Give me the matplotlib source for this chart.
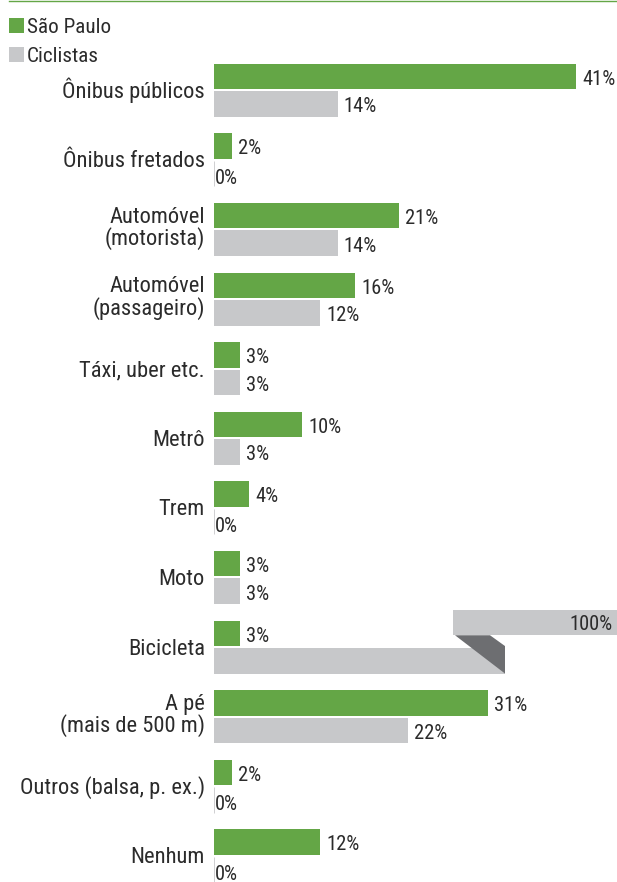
import matplotlib
matplotlib.use("Agg")
import matplotlib.pyplot as plt
from matplotlib import font_manager as fm
from matplotlib.patches import Rectangle, Polygon
from matplotlib.lines import Line2D

# ---- data -------------------------------------------------------------
categories = [
    "Ônibus públicos",
    "Ônibus fretados",
    "Automóvel\n(motorista)",
    "Automóvel\n(passageiro)",
    "Táxi, uber etc.",
    "Metrô",
    "Trem",
    "Moto",
    "Bicicleta",
    "A pé\n(mais de 500 m)",
    "Outros (balsa, p. ex.)",
    "Nenhum",
]
sao_paulo = [41, 2, 21, 16, 3, 10, 4, 3, 3, 31, 2, 12]
ciclistas = [14, 0, 14, 12, 3, 3, 0, 3, 100, 22, 0, 0]
series_names = ["São Paulo", "Ciclistas"]

# ---- style ------------------------------------------------------------
GREEN = "#64a646"
GREY = "#c7c8ca"
DARK = "#6d6e71"
TEXT = "#2b2b2b"

W, H, DPI = 617, 882, 100
AX_LEFT_PX = 214
PX_PER_UNIT = 8.83          # pixels per percentage point
PITCH = 69.6                # pixels between groups
Y0 = 76.5                   # pixel centre of first green bar


def pick_font():
    """Prefer a narrow sans face; fall back to DejaVu Sans."""
    entries = fm.fontManager.ttflist

    def regular(e):
        w = e.weight
        if isinstance(w, str):
            w = fm.weight_dict.get(w, 400)
        return e.style == "normal" and w == 400

    for fam in ["Roboto Condensed", "Liberation Sans Narrow",
                "Open Sans Condensed", "Noto Sans Condensed",
                "DejaVu Sans Condensed"]:
        for e in entries:
            if e.name == fam and regular(e):
                return e.fname
    for fam in ["Roboto", "Noto Sans", "Open Sans", "DejaVu Sans"]:
        for e in entries:
            if e.name == fam and regular(e) and e.stretch in (
                    "condensed", "semi-condensed", 75, 87.5):
                return e.fname
    return None


fpath = pick_font()


def fp(size):
    if fpath:
        return fm.FontProperties(fname=fpath, size=size)
    return fm.FontProperties(family="DejaVu Sans", size=size)


def px_x(px):
    return (px - AX_LEFT_PX) / PX_PER_UNIT


def px_y(px):
    return (px - Y0) / PITCH


fig = plt.figure(figsize=(W / DPI, H / DPI), dpi=DPI)
ax = fig.add_axes([AX_LEFT_PX / W, 0, (W - AX_LEFT_PX) / W, 1])
ax.set_xlim(0, px_x(W))
ax.set_ylim(px_y(H), px_y(0))
ax.axis("off")

n = len(categories)
bar_h = 25.5 / PITCH
grey_off = 27.5 / PITCH
xmax = px_x(W)

# where a bar too long for the scale is folded back up
BREAK_END = px_x(505)
BREAK_START = px_x(453)

green_y = [i for i in range(n)]
grey_y = [i + grey_off for i in range(n)]

ax.barh(green_y, sao_paulo, height=bar_h, color=GREEN, linewidth=0)

grey_drawn = [min(v, BREAK_END) if v > xmax else v for v in ciclistas]
grey_lw = [0.6 if v == 0 else 0 for v in ciclistas]
ax.barh(grey_y, grey_drawn, height=bar_h, color=GREY,
        edgecolor=GREY, linewidth=grey_lw)

val_fp = fp(14.8)
lab_fp = fp(16.2)
lab_gap = 6 / PX_PER_UNIT

for i, (g, c) in enumerate(zip(sao_paulo, ciclistas)):
    # green value
    ax.text(g + lab_gap if g > 0 else 0.05, green_y[i] + 8.3 / PITCH,
            f"{g}%", fontproperties=val_fp, color=TEXT,
            ha="left", va="baseline")
    if c > xmax:
        # folded bar: upper segment runs out to the value itself
        up_top = i - 0.338
        up_bot = i + 0.028
        ax.add_patch(Rectangle((BREAK_START, up_top), c - BREAK_START,
                               up_bot - up_top, facecolor=GREY,
                               linewidth=0, clip_on=True))
        low_top = grey_y[i] - bar_h / 2
        low_bot = grey_y[i] + bar_h / 2
        ax.add_patch(Polygon([
            (BREAK_START + 2 / PX_PER_UNIT, up_bot),
            (px_x(490), up_bot),
            (BREAK_END, low_top - 2 / PITCH),
            (BREAK_END, low_bot),
        ], closed=True, facecolor=DARK, linewidth=0))
        ax.text(px_x(613), i - 0.047, f"{c}%", fontproperties=val_fp,
                color=TEXT, ha="right", va="baseline")
    else:
        off = 8.3 if c > 0 else 10.0
        ax.text(c + lab_gap if c > 0 else 0.05, grey_y[i] + off / PITCH,
                f"{c}%", fontproperties=val_fp, color=TEXT,
                ha="left", va="baseline")

# category labels, right aligned left of the bars
for i, cat in enumerate(categories):
    centre = i + grey_off / 2
    if "\n" in cat:
        base = centre + 15.7 / PITCH     # baseline of the last line
    else:
        base = centre + 7.5 / PITCH
    ax.text(px_x(205), base, cat, fontproperties=lab_fp, color=TEXT,
            ha="right", va="baseline", multialignment="right",
            linespacing=0.98, clip_on=False)

# legend
leg_fp = fp(15.2)
for (name, col, top_px, base_px) in [(series_names[0], GREEN, 18, 33),
                                     (series_names[1], GREY, 47, 62)]:
    fig.add_artist(Rectangle((9 / W, 1 - (top_px + 15) / H), 15 / W, 15 / H,
                             transform=fig.transFigure, facecolor=col,
                             linewidth=0))
    fig.text(27 / W, 1 - base_px / H, name, fontproperties=leg_fp,
             color=TEXT, ha="left", va="baseline")

# thin rule across the top
fig.add_artist(Line2D([9 / W, 1], [1 - 0.7 / H, 1 - 0.7 / H],
                      transform=fig.transFigure, color=GREEN, linewidth=1.0))

fig.savefig("out.png", dpi=DPI)
